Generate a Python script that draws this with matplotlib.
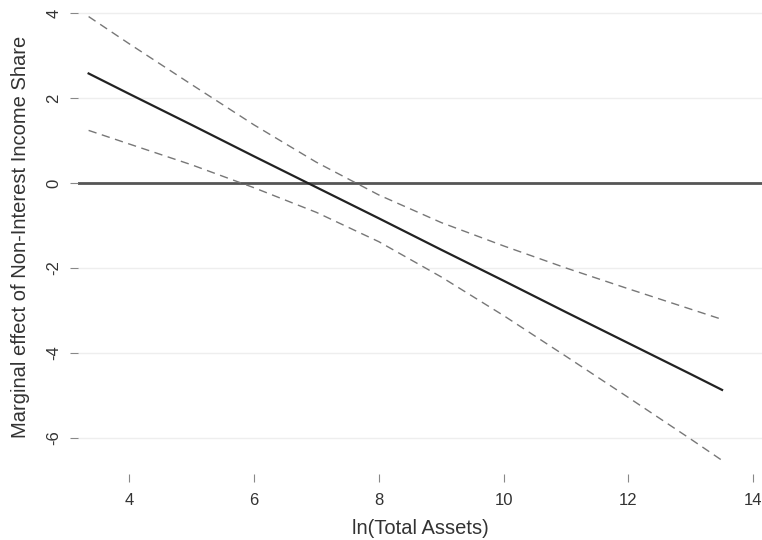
import matplotlib.pyplot as plt
import numpy as np

plt.rcParams['font.family'] = ['Liberation Sans', 'DejaVu Sans']
plt.rcParams['axes.unicode_minus'] = False

# ln(total assets) grid and marginal effect with 95% CI
ln_assets = [3.35, 4, 5, 6, 7, 8, 9, 10, 11, 12, 13, 13.5]
effect = [2.58, 2.10, 1.37, 0.63, -0.10, -0.83, -1.57, -2.30, -3.04, -3.77, -4.50, -4.87]
upper = [3.92, 3.28, 2.32, 1.37, 0.49, -0.28, -0.93, -1.48, -2.00, -2.49, -2.97, -3.21]
lower = [1.24, 0.92, 0.43, -0.11, -0.69, -1.38, -2.21, -3.12, -4.08, -5.05, -6.03, -6.53]

xticks = [4, 6, 8, 10, 12, 14]
yticks = [-6, -4, -2, 0, 2, 4]

fig = plt.figure(figsize=(7.62, 5.4), dpi=100)
ax = fig.add_axes([78 / 762, 1 - 474 / 540, (762 - 78) / 762, 474 / 540])

for yt in yticks:
    ax.axhline(yt, color='#eeeeee', lw=1.0, zorder=0)
ax.axhline(0, color='#555555', lw=2.0, zorder=1)

ax.plot(ln_assets, upper, color='#777777', lw=1.0, ls=(0, (6, 4)), zorder=2)
ax.plot(ln_assets, lower, color='#777777', lw=1.0, ls=(0, (6, 4)), zorder=2)
ax.plot(ln_assets, effect, color='#222222', lw=1.6, zorder=3)

ax.set_xlim(3.18, 14.14)
ax.set_ylim(-6.85, 4.31)
ax.set_xticks(xticks)
ax.set_yticks(yticks)
for s in ax.spines.values():
    s.set_visible(False)
ax.tick_params(axis='both', length=6, width=0.8, color='#888888',
               labelsize=12, labelcolor='#333333')
ax.tick_params(axis='x', pad=7.5)
ax.tick_params(axis='y', pad=6)
plt.setp(ax.get_yticklabels(), rotation=90, va='center')

ax.set_xlabel('ln(Total Assets)', fontsize=14.5, color='#333333', labelpad=8)
ax.set_ylabel('Marginal effect of Non-Interest Income Share', fontsize=14.5,
              color='#333333', labelpad=12)

fig.savefig('out.png', dpi=100)
